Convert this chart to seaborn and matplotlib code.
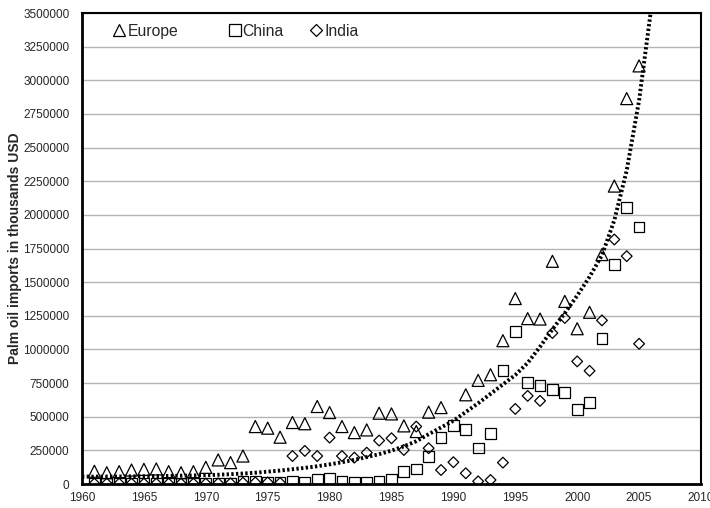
# %%
import numpy as np
import pandas as pd
import seaborn as sns
import matplotlib.pyplot as plt
from matplotlib.lines import Line2D

# %% data (thousands USD)
years = list(range(1961, 2006))

europe = [95, 84, 92, 104, 109, 112, 92, 84, 92, 124,
          179, 159, 208, 427, 415, 348, 457, 448, 576, 531,
          427, 382, 402, 526, 521, 432, 390, 534, 568, np.nan,
          663, 770, 812, 1065, 1378, 1229, 1226, 1655, 1357, 1154,
          1276, 1705, 2214, 2864, 3107]

china = [3, 3, 3, 3, 3, 3, 3, 3, 3, 3,
         5, 5, 17, 17, 12, 12, 22, 12, 37, 42,
         17, 12, 12, 22, 37, 92, 112, 204, 345, 434,
         407, 268, 377, 844, 1134, 754, 730, 705, 680, 551,
         605, 1080, 1631, 2053, 1909]

india = [3, 3, 3, 3, 3, 3, 3, 3, 3, 3,
         5, 5, 10, 12, 12, 8, 208, 246, 208, 345,
         208, 196, 233, 323, 340, 253, 427, 266, 104, 162,
         80, 20, 30, 159, 558, 655, 618, 1122, 1234, 911,
         841, 1216, 1817, 1693, 1042]

# dotted trend line
trend_years = list(range(1960, 2007))
trend_vals = [55, 55, 56, 56, 57, 58, 59, 60, 62, 64,
              66, 69, 73, 78, 84, 92, 100, 110, 120, 132,
              146, 162, 180, 200, 222, 248, 280, 318, 370, 420,
              470, 535, 600, 670, 740, 810, 900, 1020, 1150, 1270,
              1400, 1540, 1700, 1960, 2330, 2850, 3550]

series_names = ['Europe', 'China', 'India']
x_ticks = list(range(1960, 2011, 5))
y_ticks = list(range(0, 3500001, 250000))

# %%
df = pd.DataFrame({'year': years * 3,
                   'value': np.array(europe + china + india, dtype=float) * 1000,
                   'region': np.repeat(series_names, len(years))})
df_trend = pd.DataFrame({'year': trend_years, 'value': np.array(trend_vals) * 1000})

sns.set_style('white')
plt.rcParams['font.family'] = ['Liberation Sans', 'DejaVu Sans']

fig = plt.figure(figsize=(7.1, 5.08), dpi=100)
ax = fig.add_axes([0.1155, 0.0472, 0.8718, 0.9272])

markers = {'Europe': '^', 'China': 's', 'India': 'D'}
sizes = {'Europe': 75, 'China': 60, 'India': 30}
for name in series_names:
    sub = df[df['region'] == name]
    sns.scatterplot(data=sub, x='year', y='value', marker=markers[name],
                    s=sizes[name], color='black', linewidth=0.9, ax=ax, zorder=3)
    ax.collections[-1].set_facecolor('none')
    ax.collections[-1].set_edgecolor('black')

sns.lineplot(data=df_trend, x='year', y='value', color='black', lw=2.8,
             linestyle=(0, (0.6, 0.6)), ax=ax, zorder=4)

ax.set_xlim(1960, 2010)
ax.set_ylim(0, 3500000)
ax.set_xticks(x_ticks)
ax.set_yticks(y_ticks)
ax.set_yticklabels([str(v) for v in y_ticks])
ax.yaxis.grid(True, color='#b4b4b4', lw=1)
ax.xaxis.grid(False)
ax.set_axisbelow(True)

ax.tick_params(axis='y', direction='out', length=4, width=1, color='black',
               labelsize=8.5, pad=5)
ax.tick_params(axis='x', direction='in', length=4, width=1, color='#b4b4b4',
               labelsize=8.5, pad=6)
for s in ax.spines.values():
    s.set_color('black')
    s.set_linewidth(1.5)
ax.spines['left'].set_linewidth(2)
ax.spines['bottom'].set_linewidth(2)

ax.set_xlabel('')
ax.set_ylabel('Palm oil imports in thousands USD', fontsize=10,
              fontweight='bold', labelpad=1)

# legend entries sit at uneven spacing in the original, so one small legend each
legend_x = [0.025, 0.211, 0.343]
for i, n in enumerate(series_names):
    h = Line2D([], [], marker=markers[n], ls='none', mfc='none', mec='black',
               ms=8 if n != 'India' else 6, mew=0.9)
    leg = ax.legend([h], [n], loc='upper left', bbox_to_anchor=(legend_x[i], 1.007),
                    frameon=False, fontsize=11.3, handletextpad=0.0,
                    handlelength=1.0, borderpad=0.4)
    if i < len(series_names) - 1:
        ax.add_artist(leg)

plt.savefig('out.png', dpi=100)
